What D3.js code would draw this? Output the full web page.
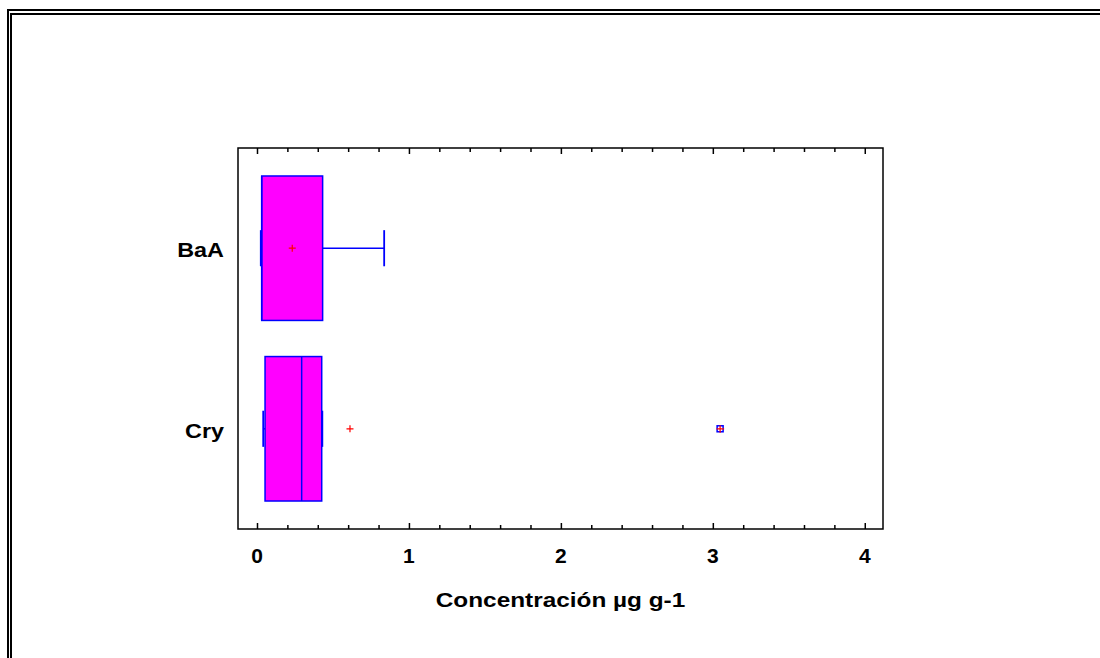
<!DOCTYPE html>
<html>
<head>
<meta charset="utf-8">
<script src="https://cdn.jsdelivr.net/npm/d3@7"></script>
<style>
  html, body { margin: 0; padding: 0; background: #fff; }
  svg { display: block; }
  text { font-family: "Liberation Sans", Arial, sans-serif; font-weight: bold; fill: #000; }
</style>
</head>
<body>
<svg id="chart" width="1100" height="658"></svg>
<script>
// ---- data ----
const categories = ["BaA", "Cry"];
const whiskerLow = [0.025, 0.041];
const q1 = [0.031, 0.053];
const median = [0.031, 0.294];
const q3 = [0.432, 0.426];
const whiskerHigh = [0.837, 0.430];
const means = [0.232, 0.612];
const outliers = [[], [3.048]];
const xTickValues = [0, 1, 2, 3, 4];
const xTickLabels = ["0", "1", "2", "3", "4"];
const xTitle = "Concentración µg g-1";

// ---- layout ----
const svg = d3.select("#chart");
const plot = { left: 238, right: 883, top: 148, bottom: 529 };
const stretch = 1.17;

// double frame
svg.append("rect").attr("x", 8).attr("y", 10).attr("width", 1200).attr("height", 800)
  .attr("fill", "none").attr("stroke", "#000").attr("stroke-width", 2);
svg.append("rect").attr("x", 11).attr("y", 14).attr("width", 1200).attr("height", 800)
  .attr("fill", "none").attr("stroke", "#000").attr("stroke-width", 2);

const x = d3.scaleLinear().domain([-0.125, 4.12]).range([plot.left, plot.right]);
const y = d3.scalePoint().domain(categories).range([plot.top, plot.bottom]).padding(0.555);
const boxH = y.step() * 0.8;
const capH = y.step() * 0.2;

// plot frame
svg.append("rect").attr("x", plot.left).attr("y", plot.top)
  .attr("width", plot.right - plot.left).attr("height", plot.bottom - plot.top)
  .attr("fill", "none").attr("stroke", "#000").attr("stroke-width", 1.5);

const minorTicks = d3.range(0, 4.001, 0.2).map(v => +v.toFixed(1)).filter(v => !xTickValues.includes(v));

function tickAxis(gen, yPos, vals, size) {
  const g = svg.append("g").attr("transform", `translate(0,${yPos})`)
    .call(gen(x).tickValues(vals).tickSize(size).tickSizeOuter(0).tickFormat(""));
  g.select(".domain").remove();
  g.selectAll(".tick line").attr("stroke", "#000").attr("stroke-width", 1.5);
}
// bottom ticks pointing up, top ticks pointing down
tickAxis(d3.axisTop, plot.bottom, xTickValues, 6);
tickAxis(d3.axisTop, plot.bottom, minorTicks, 4);
tickAxis(d3.axisBottom, plot.top, xTickValues, 6);
tickAxis(d3.axisBottom, plot.top, minorTicks, 4);

// x tick labels
svg.append("g").selectAll("text").data(xTickValues).join("text")
  .attr("transform", (d) => `translate(${x(d)},563)`)
  .attr("text-anchor", "middle").attr("font-size", 21)
  .text((d, i) => xTickLabels[i]);

// y category labels
svg.append("g").selectAll("text").data(categories).join("text")
  .attr("transform", d => `translate(224,${y(d) + 9}) scale(${stretch},1)`)
  .attr("text-anchor", "end").attr("font-size", 20)
  .text(d => d);

// x title
svg.append("text")
  .attr("transform", `translate(${(plot.left + plot.right) / 2},607) scale(${stretch - 0.01},1)`)
  .attr("text-anchor", "middle").attr("font-size", 21)
  .text(xTitle);

// boxes
const blue = "#0000ff";
categories.forEach((c, i) => {
  const cy = y(c);
  const g = svg.append("g");
  // whiskers
  g.append("line").attr("x1", x(whiskerLow[i])).attr("x2", x(q1[i]))
    .attr("y1", cy).attr("y2", cy).attr("stroke", blue).attr("stroke-width", 1.5);
  g.append("line").attr("x1", x(q3[i])).attr("x2", x(whiskerHigh[i]))
    .attr("y1", cy).attr("y2", cy).attr("stroke", blue).attr("stroke-width", 1.5);
  // box
  g.append("rect").attr("x", x(q1[i])).attr("y", cy - boxH / 2)
    .attr("width", x(q3[i]) - x(q1[i])).attr("height", boxH)
    .attr("fill", "#ff00ff").attr("stroke", blue).attr("stroke-width", 1.5);
  // median
  g.append("line").attr("x1", x(median[i])).attr("x2", x(median[i]))
    .attr("y1", cy - boxH / 2).attr("y2", cy + boxH / 2)
    .attr("stroke", blue).attr("stroke-width", 1.5);
  // caps
  [whiskerLow[i], whiskerHigh[i]].forEach(v => {
    g.append("line").attr("x1", x(v)).attr("x2", x(v))
      .attr("y1", cy - capH / 2).attr("y2", cy + capH / 2)
      .attr("stroke", blue).attr("stroke-width", 1.8);
  });
  // mean marker
  const mx = x(means[i]);
  g.append("path").attr("d", `M${mx - 3.5},${cy}H${mx + 3.5}M${mx},${cy - 3.5}V${cy + 3.5}`)
    .attr("stroke", "#ff0000").attr("stroke-width", 1.2).attr("fill", "none");
  // outliers
  outliers[i].forEach(v => {
    const ox = x(v);
    g.append("rect").attr("x", ox - 3).attr("y", cy - 3).attr("width", 6).attr("height", 6)
      .attr("fill", "none").attr("stroke", blue).attr("stroke-width", 1.5);
    g.append("path").attr("d", `M${ox - 3.5},${cy}H${ox + 4}M${ox},${cy - 3.5}V${cy + 4}`)
      .attr("stroke", "#ff0000").attr("stroke-width", 1.2).attr("fill", "none");
  });
});
</script>
</body>
</html>
